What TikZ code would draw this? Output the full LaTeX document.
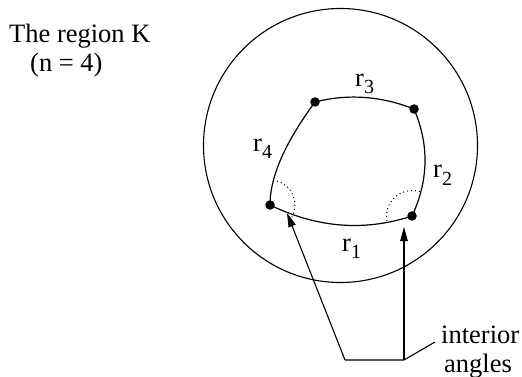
\documentclass[tikz,border=0pt]{standalone}
\usepackage{fontspec}
\setmainfont{Liberation Serif}
\usetikzlibrary{arrows.meta}
\newcommand{\rlab}[1]{r\raisebox{-7pt}{\fontsize{20}{20}\selectfont #1}}
\tikzset{
  txt/.style={inner sep=0pt, anchor=base west, font=\fontsize{26.5}{29}\selectfont},
  vert/.style={circle, fill=black, inner sep=0pt, minimum size=9.5pt},
  edge/.style={line width=1.2pt},
  arc/.style={line width=1pt, dash pattern=on 1pt off 3pt},
  arr/.style={line width=1.1pt, -{Triangle[length=14pt,width=7.5pt]}},
}
\begin{document}
\begin{tikzpicture}[x=1pt,y=-1pt]
\useasboundingbox (0,0) rectangle (522,377);
\node[circle, draw, line width=1.1pt, minimum size=274pt, inner sep=0pt] (K) at (340.5,145.5) {};
% vertices
\node[vert] (v1) at (270,205) {};
\node[vert] (v2) at (412,216) {};
\node[vert] (v3) at (414,109) {};
\node[vert] (v4) at (315,102) {};
% edges
\draw[edge] (v1.center) .. controls (317.3,228) and (364.7,231.6) .. (v2.center);
\draw[edge] (v2.center) .. controls (428.7,180.3) and (429.3,144.7) .. (v3.center);
\draw[edge] (v3.center) .. controls (381,96) and (348,93.6) .. (v4.center);
\draw[edge] (v4.center) .. controls (293,132) and (270,170) .. (v1.center);
% interior angle arcs
\draw[arc] (v1.center) ++(83:25pt) arc[start angle=83, end angle=-29, radius=25pt];
\draw[arc] (v2.center) ++(72:25.5pt) arc[start angle=72, end angle=196, radius=25.5pt];
% labels
\node[txt] (r1) at (342,251) {\rlab{1}};
\node[txt] (r2) at (433,178) {\rlab{2}};
\node[txt] (r3) at (355,87) {\rlab{3}};
\node[txt] (r4) at (253,152) {\rlab{4}};
\node[txt] (t1) at (9,43) {The region K};
\node[txt] (t2) at (30,72) {(n = 4)};
\node[txt] (int) at (441,343) {interior};
\node[txt] (ang) at (444,372) {angles};
% arrows
\coordinate (a1) at (287,213);
\coordinate (a2) at (404,227);
\coordinate (j1) at (345,360);
\coordinate (j2) at (404,360);
\coordinate (c) at (435,342);
\draw[arr] (j1) -- (a1);
\draw[arr] (j2) -- (a2);
\draw[line width=1.1pt] (j1) -- (j2) -- (c);
\end{tikzpicture}
\end{document}
